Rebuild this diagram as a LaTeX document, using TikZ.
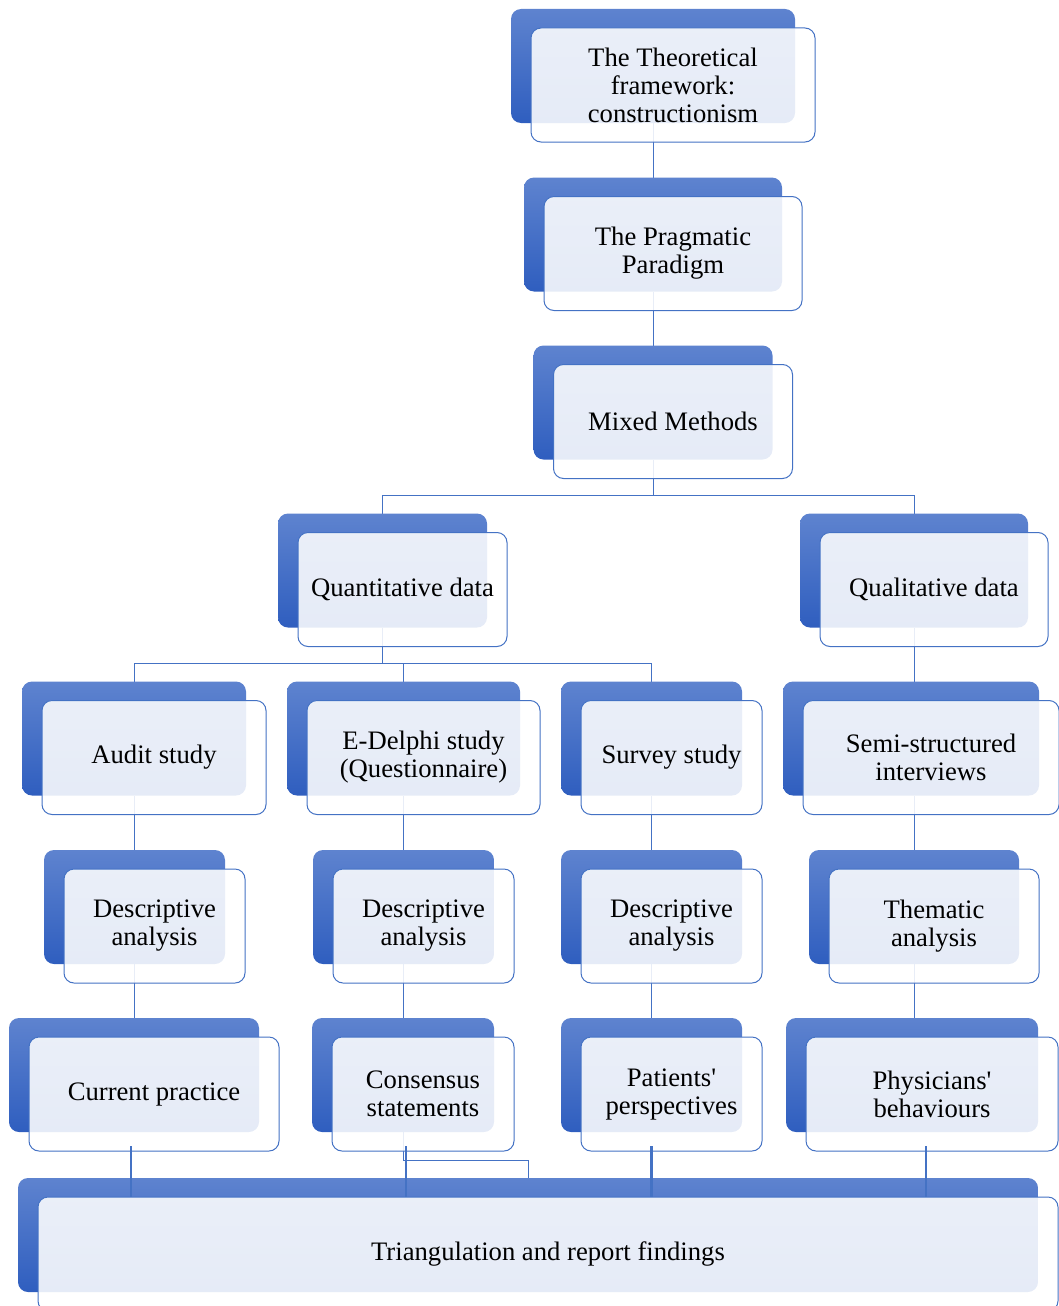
\documentclass[tikz,border=0pt]{standalone}
\usepackage{fontspec}
\setmainfont{Liberation Serif}
\usetikzlibrary{positioning,calc,backgrounds}
\definecolor{boxblue}{HTML}{4472C4}
\definecolor{shadetop}{HTML}{5E83CF}
\definecolor{shadebot}{HTML}{2F5EBF}

\tikzset{
  back/.style={rounded corners=7.5pt, minimum height=85.5pt, inner sep=0pt, outer sep=0pt,
    top color=shadetop, bottom color=shadebot},
  front/.style={draw=boxblue, line width=0.75pt, rounded corners=7.5pt, fill=white,
    fill opacity=0.88, text opacity=1, minimum height=85.5pt, inner sep=0pt, outer sep=0pt,
    align=center, font=\fontsize{20}{21}\selectfont},
  bw/.style={minimum width=#1*0.75pt},
  link/.style={draw=boxblue, line width=0.75pt},
  thicklink/.style={draw=boxblue, line width=1.6pt},
}

\begin{document}
\begin{tikzpicture}[x=0.75pt,y=-0.75pt]
\useasboundingbox (0,0) rectangle (1059,1306);

% back boxes
\node[back, bw=284] (theob) at (653,66) {};
\node[back, bw=258] (pragb) at (653,234.5) {};
\node[back, bw=239] (mixb) at (653,402.5) {};

\node[back, bw=209] (quanb) at (382.5,570.5) {};
\node[back, bw=228] (qualb) at (914,570.5) {};

\node[back, bw=224] (audb) at (134,738.5) {};
\node[back, bw=233] (delb) at (403.5,738.5) {};
\node[back, bw=181] (survb) at (651.5,738.5) {};
\node[back, bw=256] (semib) at (911,738.5) {};

\node[back, bw=181] (desaub) at (134.5,907) {};
\node[back, bw=181] (desdeb) at (403.5,907) {};
\node[back, bw=181] (dessub) at (651.5,907) {};
\node[back, bw=210] (themb) at (914,907) {};

\node[back, bw=250] (curb) at (134,1075) {};
\node[back, bw=182] (consb) at (403,1075) {};
\node[back, bw=181] (patb) at (651.5,1075) {};
\node[back, bw=252] (physb) at (912,1075) {};

\node[back, bw=1020] (trib) at (528,1235) {};

% front boxes
\node[front, bw=284] (theof) at ([shift={(20,19)}]theob.center) {The Theoretical\\framework:\\constructionism};
\node[front, bw=258] (pragf) at ([shift={(20,19)}]pragb.center) {The Pragmatic\\Paradigm};
\node[front, bw=239] (mixf) at ([shift={(20,19)}]mixb.center) {Mixed Methods};

\node[front, bw=209] (quanf) at ([shift={(20,19)}]quanb.center) {Quantitative data};
\node[front, bw=228] (qualf) at ([shift={(20,19)}]qualb.center) {Qualitative data};

\node[front, bw=224] (audf) at ([shift={(20,19)}]audb.center) {Audit study};
\node[front, bw=233] (delf) at ([shift={(20,19)}]delb.center) {E-Delphi study\\(Questionnaire)};
\node[front, bw=181] (survf) at ([shift={(20,19)}]survb.center) {Survey study};
\node[front, bw=256] (semif) at ([shift={(20,19)}]semib.center) {Semi-structured\\interviews};

\node[front, bw=181] (desauf) at ([shift={(20,19)}]desaub.center) {Descriptive\\analysis};
\node[front, bw=181] (desdef) at ([shift={(20,19)}]desdeb.center) {Descriptive\\analysis};
\node[front, bw=181] (dessuf) at ([shift={(20,19)}]dessub.center) {Descriptive\\analysis};
\node[front, bw=210] (themf) at ([shift={(20,19)}]themb.center) {Thematic\\analysis};

\node[front, bw=250] (curf) at ([shift={(20,19)}]curb.center) {Current practice};
\node[front, bw=182] (consf) at ([shift={(20,19)}]consb.center) {Consensus\\statements};
\node[front, bw=181] (patf) at ([shift={(20,19)}]patb.center) {Patients\textquotesingle\\perspectives};
\node[front, bw=252] (physf) at ([shift={(20,19)}]physb.center) {Physicians\textquotesingle\\behaviours};

\node[front, bw=1020] (trif) at ([shift={(20,19)}]trib.center) {Triangulation and report findings};

% connectors behind the boxes
\begin{pgfonlayer}{background}
\draw[link] (theob.south) -- (pragb.north);
\draw[link] (pragb.south) -- (mixb.north);

\draw[link] (mixb.south) -- ++(0,36) -| (quanb.north);
\draw[link] (mixb.south) -- ++(0,36) -| (qualb.north);

\draw[link] (quanb.south) -- ++(0,36) -| (audb.north);
\draw[link] (quanb.south) -- ++(0,36) -| (delb.north);
\draw[link] (quanb.south) -- ++(0,36) -| (survb.north);
\draw[link] (qualb.south) -- (qualb.south |- semib.north);

\draw[link] (audb.south) -- (audb.south |- desaub.north);
\draw[link] (delb.south) -- (delb.south |- desdeb.north);
\draw[link] (survb.south) -- (survb.south |- dessub.north);
\draw[link] (semib.south -| qualb.south) -- (qualb.south |- themb.north);

\draw[link] (desaub.south) -- (desaub.south |- curb.north);
\draw[link] (desdeb.south) -- (desdeb.south |- consb.north);
\draw[link] (dessub.south) -- (dessub.south |- patb.north);
\draw[link] (themb.south) -- (themb.south |- physb.north);

\draw[link] (consb.south) -- ++(0,28) -| (trib.north);
\end{pgfonlayer}

% short links into the last box
\coordinate (k1) at ($(curb.south)+(-3,14)$);
\coordinate (k2) at ($(consb.south)+(3,14)$);
\coordinate (k3) at ($(patb.south)+(0,14)$);
\coordinate (k4) at ($(physb.south)+(14,14)$);
\draw[thicklink] (k1) -- (k1 |- trif.north);
\draw[thicklink] (k2) -- (k2 |- trif.north);
\draw[thicklink] (k3) -- (k3 |- trif.north);
\draw[thicklink] (k4) -- (k4 |- trif.north);

\end{tikzpicture}
\end{document}
